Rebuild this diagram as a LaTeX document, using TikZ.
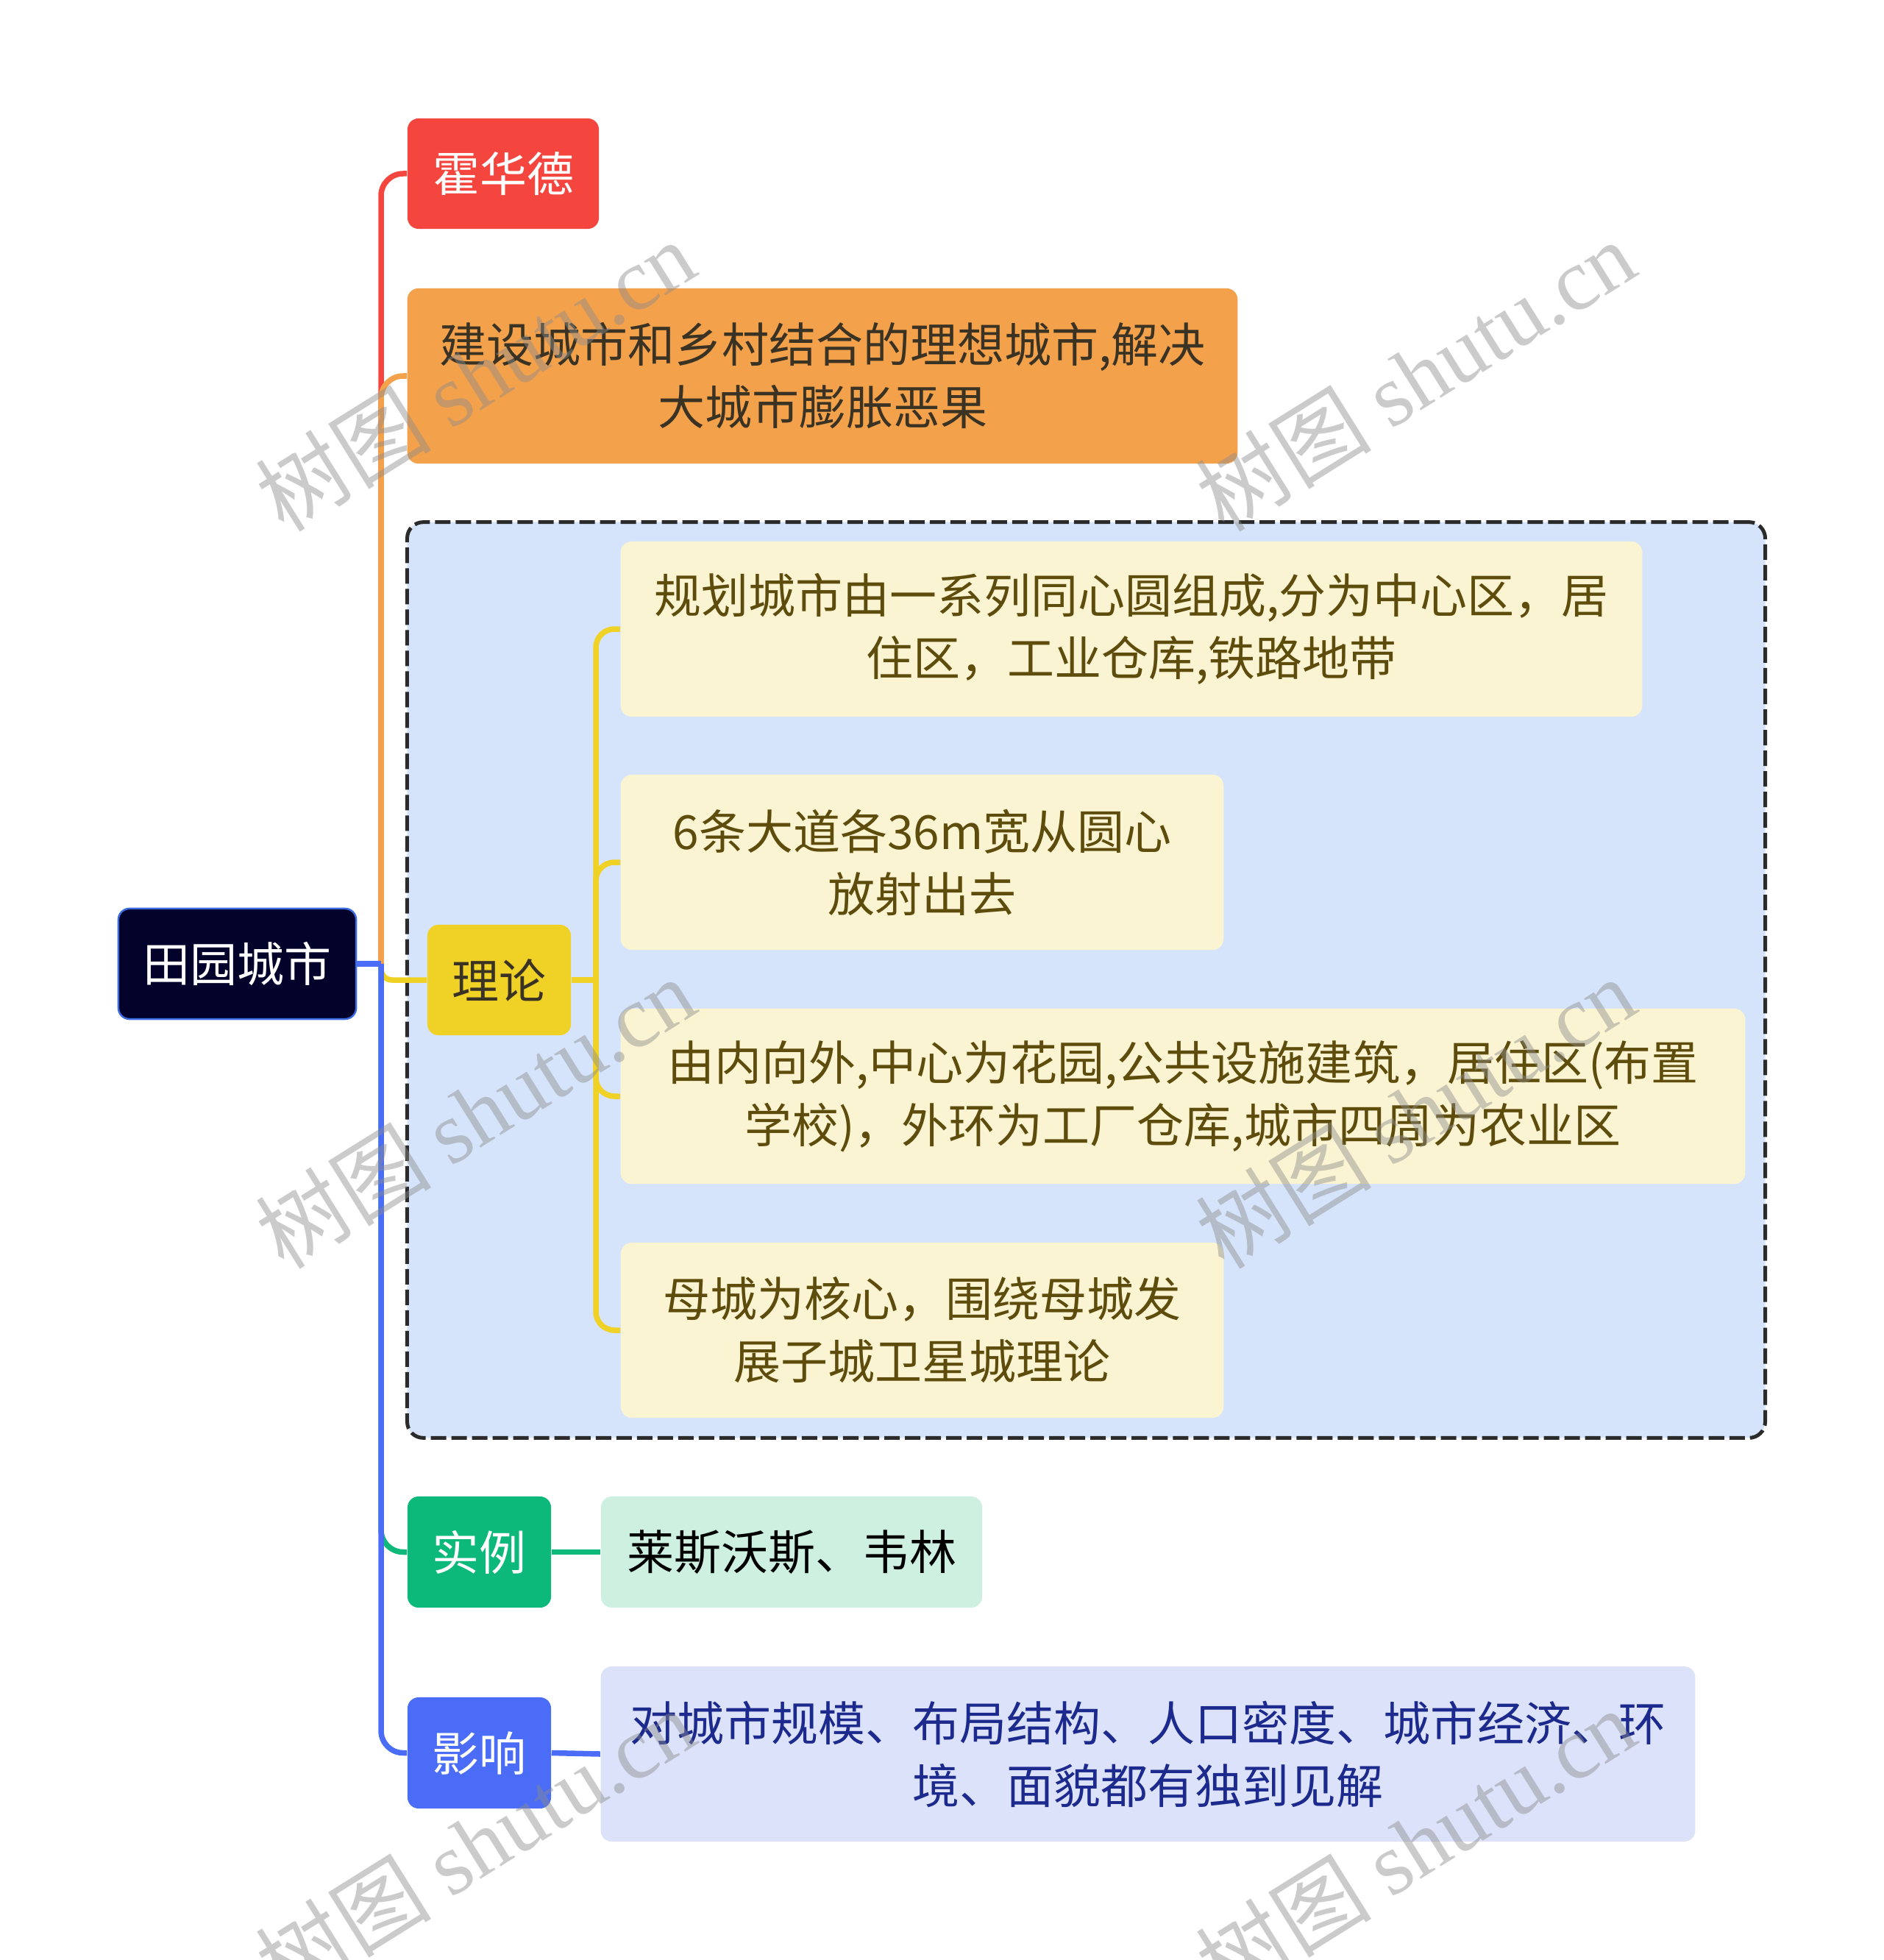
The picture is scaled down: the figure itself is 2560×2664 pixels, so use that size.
\documentclass[tikz,border=0pt]{standalone}
\usepackage{fontspec}
\setmainfont{Noto Sans CJK SC}
\newfontfamily\wmlatin{Liberation Serif}
\definecolor{cred}{HTML}{F5453F}
\definecolor{corange}{HTML}{F4A14B}
\definecolor{cyellow}{HTML}{F0D226}
\definecolor{cgreen}{HTML}{0DB97A}
\definecolor{cblue}{HTML}{4A6CF7}
\definecolor{croot}{HTML}{02022A}
\definecolor{crootb}{HTML}{3C6BE0}
\definecolor{cframe}{HTML}{D6E4FB}
\definecolor{cframeb}{HTML}{2B2B2B}
\definecolor{ccream}{HTML}{FBF4D2}
\definecolor{ccreamt}{HTML}{5E4C0C}
\definecolor{clgreen}{HTML}{CDF0E0}
\definecolor{clav}{HTML}{DCE2FA}
\definecolor{clavt}{HTML}{1B2A8C}
\definecolor{cdark}{HTML}{3A3324}
\begin{document}
\begin{tikzpicture}[x=0.01cm,y=-0.01cm,
  box/.style={rounded corners=0.15cm, inner sep=0pt, align=center,
    font=\fontsize{18.2}{24.2}\selectfont},
  leaf/.style={box, fill=ccream, text=ccreamt, minimum height=2.38cm},
  conn/.style={line width=0.075cm},
  wm/.style={rotate=32, text=black!45, text opacity=0.45,
    font=\fontsize{34}{40}\selectfont}]
\useasboundingbox (0,0) rectangle (2560,2664);
% summary frame
\node[draw=cframeb, fill=cframe, line width=0.05cm, dash pattern=on 0.21cm off 0.07cm,
  rounded corners=0.22cm, minimum width=18.45cm, minimum height=12.44cm, inner sep=0pt]
  (frame) at (1476.5,1332) {};
% nodes
\node[box, fill=croot, draw=crootb, line width=0.025cm, text=white,
  minimum width=3.23cm, minimum height=1.50cm] (root) at (322.5,1310) {田园城市};
\node[box, fill=cred, text=white, minimum width=2.60cm, minimum height=1.50cm]
  (hua) at (684,236) {霍华德};
\node[box, fill=corange, text=cdark, minimum width=11.28cm, minimum height=2.38cm]
  (goal) at (1118,511) {建设城市和乡村结合的理想城市,解决\\大城市膨胀恶果};
\node[box, fill=cyellow, text=cdark, minimum width=1.95cm, minimum height=1.50cm]
  (th) at (678.5,1332) {理论};
\node[leaf, minimum width=13.88cm] (l1) at (1538,855)
  {规划城市由一系列同心圆组成,分为中心区，居\\住区，工业仓库,铁路地带};
\node[leaf, minimum width=8.19cm] (l2) at (1253.5,1172)
  {6条大道各36m宽从圆心\\放射出去};
\node[leaf, minimum width=15.28cm] (l3) at (1608,1490)
  {由内向外,中心为花园,公共设施建筑，居住区(布置\\学校)，外环为工厂仓库,城市四周为农业区};
\node[leaf, minimum width=8.19cm] (l4) at (1253.5,1808)
  {母城为核心，围绕母城发\\展子城卫星城理论};
\node[box, fill=cgreen, text=white, minimum width=1.95cm, minimum height=1.51cm]
  (ex) at (651.5,2109.5) {实例};
\node[box, fill=clgreen, text=black, minimum width=5.18cm, minimum height=1.51cm]
  (exl) at (1076,2109.5) {莱斯沃斯、韦林};
\node[box, fill=cblue, text=white, minimum width=1.95cm, minimum height=1.51cm]
  (imp) at (651.5,2382.5) {影响};
\node[box, fill=clav, text=clavt, minimum width=14.87cm, minimum height=2.38cm]
  (impl) at (1560.5,2384) {对城市规模、布局结构、人口密度、城市经济、环\\境、面貌都有独到见解};
% connectors
\coordinate (j) at (518,1310);
\coordinate (k) at (810,1332);
\draw[conn, cred, rounded corners=0.3cm] (j) |- (hua.west);
\draw[conn, corange, rounded corners=0.3cm] (j) |- (goal.west);
\draw[conn, cyellow, rounded corners=0.15cm] (j) |- (th.west);
\draw[conn, cgreen, rounded corners=0.3cm] (j) |- (ex.west);
\draw[conn, cblue, rounded corners=0.3cm] (j) |- (imp.west);
\draw[conn, cblue] (root.east) -- (j);
\draw[conn, cyellow] (th.east) -- (k);
\draw[conn, cyellow, rounded corners=0.25cm] (k) |- (l1.west);
\draw[conn, cyellow, rounded corners=0.25cm] (k) |- (l2.west);
\draw[conn, cyellow, rounded corners=0.25cm] (k) |- (l3.west);
\draw[conn, cyellow, rounded corners=0.25cm] (k) |- (l4.west);
\draw[conn, cgreen] (ex.east) -- (exl.west);
\draw[conn, cblue] (imp.east) -- (impl.west);
% watermarks
\node[wm] (w1) at (646,510) {树图 {\wmlatin shutu.cn}};
\node[wm] (w2) at (1924,510) {树图 {\wmlatin shutu.cn}};
\node[wm] (w3) at (646,1512) {树图 {\wmlatin shutu.cn}};
\node[wm] (w4) at (1924,1512) {树图 {\wmlatin shutu.cn}};
\node[wm] (w5) at (646,2506) {树图 {\wmlatin shutu.cn}};
\node[wm] (w6) at (1924,2506) {树图 {\wmlatin shutu.cn}};
\end{tikzpicture}
\end{document}
